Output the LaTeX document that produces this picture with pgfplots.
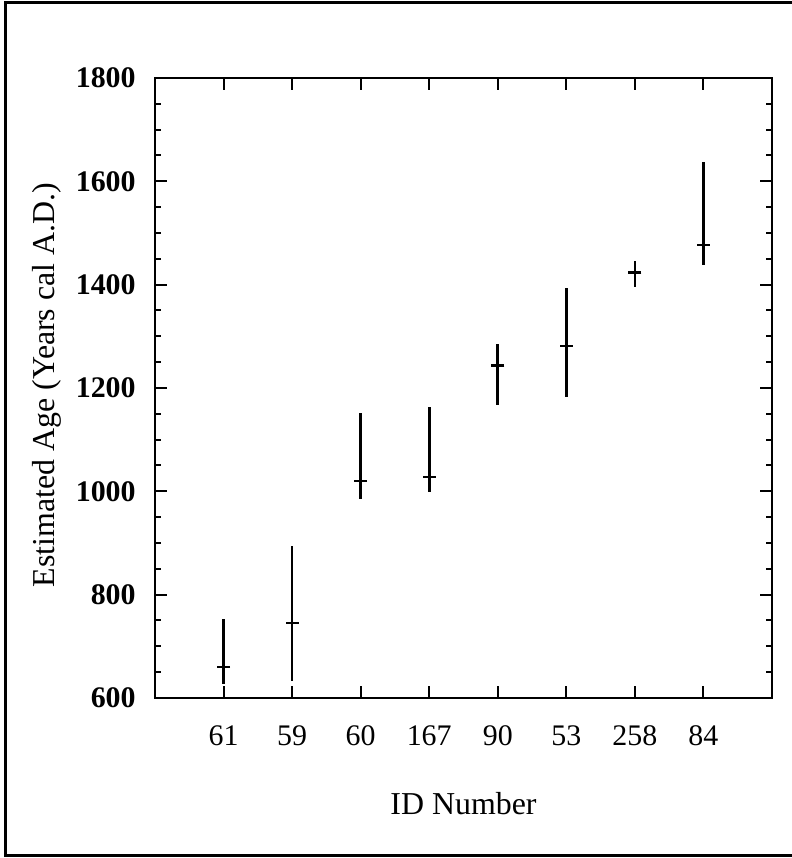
\documentclass[border=0pt]{standalone}
\usepackage{fontspec}
\setmainfont{Liberation Serif}
\usepackage{pgfplots}
\pgfplotsset{compat=1.18}
\begin{document}
\begin{tikzpicture}
\path[use as bounding box] (0,0) rectangle (396bp,429bp);
\draw[line width=1.5bp] (396bp,427.5bp) -- (2.5bp,427.5bp) -- (2.5bp,1.5bp) -- (396bp,1.5bp);
\begin{axis}[
  at={(77.5bp,80bp)}, anchor=south west,
  scale only axis, width=308.5bp, height=310bp,
  xmin=0, xmax=9, ymin=600, ymax=1800,
  xtick={1,2,3,4,5,6,7,8},
  xticklabels={61,59,60,167,90,53,258,84},
  ytick={600,800,1000,1200,1400,1600,1800},
  minor y tick num=3,
  tick align=inside,
  major tick length=6bp, minor tick length=3bp,
  axis line style={line width=1bp},
  every tick/.style={line width=1bp, black},
  /pgf/number format/assume math mode=true,
  /pgf/number format/set thousands separator={},
  yticklabel style={font=\bfseries\fontsize{15}{15}\selectfont, anchor=east, inner sep=0pt, xshift=-9.5bp},
  xticklabel style={font=\fontsize{15}{15}\selectfont, anchor=north, inner sep=0pt, yshift=-13.5bp},
  xlabel={ID Number},
  xlabel style={font=\fontsize{16}{16}\selectfont, at={(axis description cs:0.5,0)}, anchor=north, inner sep=0pt, yshift=-47bp},
  clip=false,
]
\addplot[black, only marks, mark=-, mark size=3.25bp, mark options={line width=1.3bp},
  error bars/.cd, y dir=both, y explicit, error mark=none,
  error bar style={line width=1.3bp, black}]
  table[x=x, y=y, y error plus=ep, y error minus=em] {
x y ep em
1 660 93 33
2 745 149 112
3 1020 132 35
4 1028 135 29
5 1243 42 76
6 1281 112 98
7 1423 23 28
8 1477 160 39
};
\end{axis}
\node[rotate=90, anchor=base, inner sep=0pt, font=\fontsize{16}{16}\selectfont] at (27bp,236.5bp) {Estimated Age (Years cal A.D.)};
\end{tikzpicture}
\end{document}
